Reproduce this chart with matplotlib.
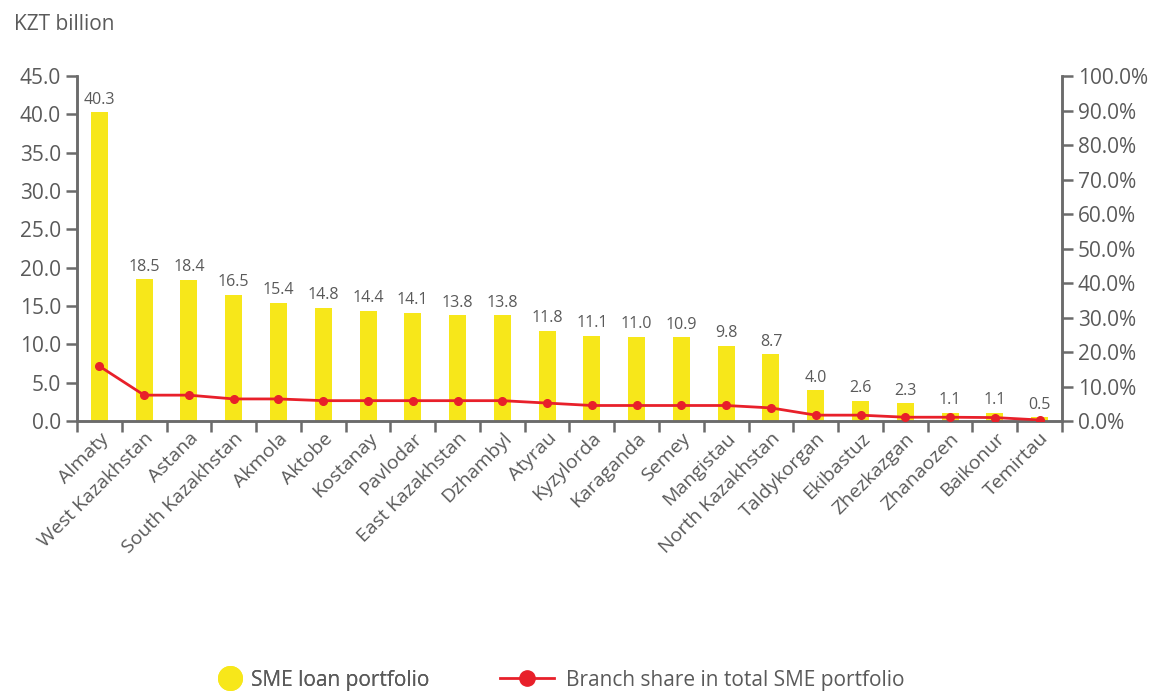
import numpy as np
import matplotlib
matplotlib.use('Agg')
import matplotlib.pyplot as plt
from matplotlib.lines import Line2D

plt.rcParams['font.family'] = ['Open Sans', 'DejaVu Sans']

branches = ['Almaty', 'West Kazakhstan', 'Astana', 'South Kazakhstan', 'Akmola', 'Aktobe',
            'Kostanay', 'Pavlodar', 'East Kazakhstan', 'Dzhambyl', 'Atyrau', 'Kyzylorda',
            'Karaganda', 'Semey', 'Mangistau', 'North Kazakhstan', 'Taldykorgan', 'Ekibastuz',
            'Zhezkazgan', 'Zhanaozen', 'Baikonur', 'Temirtau']
portfolio = [40.3, 18.5, 18.4, 16.5, 15.4, 14.8, 14.4, 14.1, 13.8, 13.8, 11.8, 11.1,
             11.0, 10.9, 9.8, 8.7, 4.0, 2.6, 2.3, 1.1, 1.1, 0.5]
share = [15.9, 7.5, 7.5, 6.4, 6.4, 5.9, 5.9, 5.9, 5.9, 5.9, 5.2, 4.5,
         4.5, 4.5, 4.5, 3.8, 1.7, 1.7, 1.1, 1.1, 1.0, 0.3]

yellow = '#F7E71A'
red = '#E8202A'
grey = '#5a5a5a'
axis_c = '#6b6b6b'

fig = plt.figure(figsize=(11.54, 6.92), dpi=100)
ax = fig.add_axes([0.0667, 0.3916, 0.8536, 0.4984])
ax2 = ax.twinx()

x = np.arange(len(branches))
ax.bar(x, portfolio, width=0.38, color=yellow, zorder=2)
for xi, v in zip(x, portfolio):
    ax.text(xi, v + 0.6, f'{v:.1f}', ha='center', va='bottom', fontsize=11.5, color=grey)

ax2.plot(x, share, color=red, lw=2, marker='o', ms=5.5, zorder=3)

ax.set_xlim(-0.5, len(branches) - 0.5)
ax.set_ylim(0, 45)
ax2.set_ylim(0, 100)

ax.set_yticks(np.arange(0, 46, 5))
ax.set_yticklabels([f'{v:.1f}' for v in np.arange(0, 46, 5)])
ax2.set_yticks(np.arange(0, 101, 10))
ax2.set_yticklabels([f'{v:.1f}%' for v in np.arange(0, 101, 10)])

ax.set_xticks(np.arange(-0.5, len(branches), 1.0))
ax.set_xticklabels([])
ax.set_xticks(x, minor=True)
ax.set_xticklabels(branches, minor=True, rotation=45, ha='right', rotation_mode='anchor',
                   fontsize=14, color=grey)
ax.tick_params(axis='x', which='minor', length=0, pad=6)
ax.tick_params(axis='x', which='major', length=8, width=1.8, color=axis_c)

for a in (ax, ax2):
    a.spines['top'].set_visible(False)
    for s in ('left', 'right', 'bottom'):
        a.spines[s].set_color(axis_c)
        a.spines[s].set_linewidth(1.8)
ax.tick_params(axis='y', length=8, width=1.8, color=axis_c, labelsize=15, labelcolor=grey)
ax2.tick_params(axis='y', length=8, width=1.8, color=axis_c, labelsize=15, labelcolor=grey)

fig.text(0.012, 0.965, 'KZT billion', fontsize=15, color=grey, ha='left', va='center')

h1 = Line2D([], [], ls='none', marker='o', ms=17, color=yellow)
h2 = Line2D([], [], color=red, lw=2, marker='o', ms=11)
leg1 = fig.legend([h1], ['SME loan portfolio'], loc='center left',
                  bbox_to_anchor=(0.19, 0.017), frameon=False, fontsize=15,
                  labelcolor=grey, handlelength=1.0, handletextpad=0.5,
                  borderpad=0, borderaxespad=0)
leg2 = fig.legend([h2], ['Branch share in total SME portfolio'], loc='center left',
                  bbox_to_anchor=(0.433, 0.017), frameon=False, fontsize=15,
                  labelcolor=grey, handlelength=2.6, handletextpad=0.6,
                  borderpad=0, borderaxespad=0)
fig.add_artist(leg1)

fig.savefig('out.png', dpi=100)
